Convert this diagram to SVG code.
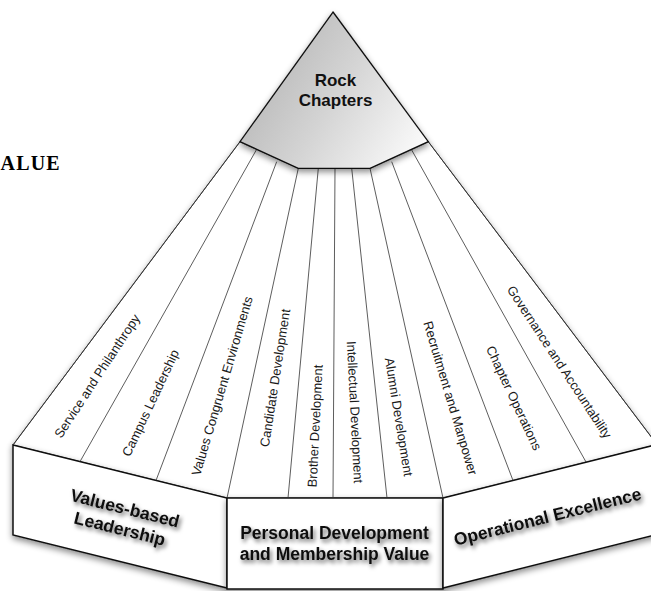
<svg xmlns="http://www.w3.org/2000/svg" width="651" height="591" viewBox="0 0 651 591">
<defs>
<linearGradient id="pg" x1="0" y1="0.3" x2="1" y2="0.8">
<stop offset="0" stop-color="#b2b2b2"/>
<stop offset="0.5" stop-color="#d4d4d4"/>
<stop offset="1" stop-color="#fafafa"/>
</linearGradient>
<filter id="sh" x="-10%" y="-10%" width="120%" height="130%">
<feDropShadow dx="0" dy="3" stdDeviation="3" flood-color="#000" flood-opacity="0.45"/>
</filter>
<filter id="tsh" x="-10%" y="-30%" width="130%" height="180%">
<feDropShadow dx="2" dy="3" stdDeviation="2" flood-color="#000" flood-opacity="0.6"/>
</filter>
</defs>
<style>
.fl{font-family:"Liberation Sans",Arial,sans-serif;font-size:13px;fill:#1a1a1a;text-anchor:middle}
.bl{font-family:"Liberation Sans",Arial,sans-serif;font-size:17.5px;font-weight:bold;fill:#111;text-anchor:middle}
.div{stroke:#333;stroke-width:0.8;fill:none}
.box{fill:#fff;stroke:#111;stroke-width:1.5;stroke-linejoin:miter}
</style>
<rect width="651" height="591" fill="#fff"/>
<text x="0.5" y="170" font-family="Liberation Serif,Times New Roman,serif" font-size="20" font-weight="bold" letter-spacing="1.2" fill="#000">ALUE</text>

<g id="fan">
<polygon points="240,141.7 298.3,168.3 370,168.3 428.3,141.7 657,444.5 443,498 227,498 13,445" fill="#fff" stroke="#222" stroke-width="0.9" filter="url(#sh)"/>
</g>

<g id="box-values" filter="url(#sh)">
<polygon class="box" points="13,445 227,498 227,588 13,535"/>
</g>
<g id="box-personal" filter="url(#sh)">
<polygon class="box" points="227,498 443,498 443,589 227,589"/>
</g>
<g id="box-operational" filter="url(#sh)">
<polygon class="box" points="443,498 657,444.5 657,534.5 443,588"/>
</g>

<g id="connectors">
<line class="div" x1="256.7" y1="149.3" x2="80" y2="461.6"/>
<line class="div" x1="276.7" y1="161.7" x2="156" y2="480.5"/>
<line class="div" x1="298.3" y1="168.3" x2="227" y2="498"/>
<line class="div" x1="318.3" y1="168.3" x2="288" y2="498"/>
<line class="div" x1="335" y1="168.3" x2="333" y2="498"/>
<line class="div" x1="351.7" y1="168.3" x2="387" y2="498"/>
<line class="div" x1="370" y1="168.3" x2="443" y2="498"/>
<line class="div" x1="391.7" y1="161.7" x2="513" y2="480.5"/>
<line class="div" x1="411.7" y1="150" x2="586" y2="462"/>
<line class="div" x1="240" y1="141.7" x2="13" y2="445"/>
<line class="div" x1="428.3" y1="141.7" x2="657" y2="444.5"/>
</g>

<g id="rock">
<polygon points="333,12 428.3,141.7 370,168.3 298.3,168.3 240,141.7" fill="url(#pg)" stroke="#111" stroke-width="1.3" stroke-linejoin="miter" filter="url(#sh)"/>
<text x="335.5" y="86" font-family="Liberation Sans,Arial,sans-serif" font-size="17" font-weight="bold" fill="#111" text-anchor="middle">Rock</text>
<text x="335.5" y="106" font-family="Liberation Sans,Arial,sans-serif" font-size="17" font-weight="bold" fill="#111" text-anchor="middle">Chapters</text>
</g>

<g id="s1"><text class="fl" dy="0.35em" transform="translate(97,376) rotate(-56.7)">Service and Philanthropy</text></g>
<g id="s2"><text class="fl" dy="0.35em" transform="translate(150.5,403) rotate(-64.8)">Campus Leadership</text></g>
<g id="s3"><text class="fl" dy="0.35em" transform="translate(222,386) rotate(-73.5)">Values Congruent Environments</text></g>
<g id="s4"><text class="fl" dy="0.35em" transform="translate(275,378) rotate(-81.2)">Candidate Development</text></g>
<g id="s5"><text class="fl" dy="0.35em" transform="translate(315,426) rotate(-87.2)">Brother Development</text></g>
<g id="s6"><text class="fl" dy="0.35em" transform="translate(355,412) rotate(87.1)">Intellectual Development</text></g>
<g id="s7"><text class="fl" dy="0.35em" transform="translate(399,417) rotate(80.7)">Alumni Development</text></g>
<g id="s8"><text class="fl" dy="0.35em" transform="translate(450.5,398) rotate(73.3)">Recruitment and Manpower</text></g>
<g id="s9"><text class="fl" dy="0.35em" transform="translate(514,398) rotate(64.9)">Chapter Operations</text></g>
<g id="s10"><text class="fl" dy="0.35em" transform="translate(559.5,362) rotate(56.75)">Governance and Accountability</text></g>

<g id="label-values" filter="url(#tsh)">
<g transform="translate(123,516) rotate(14)">
<text class="bl" x="0" y="-2">Values-based</text>
<text class="bl" x="0" y="19">Leadership</text>
</g>
</g>
<g id="label-personal" filter="url(#tsh)">
<text class="bl" x="334.5" y="539.3">Personal Development</text>
<text class="bl" x="334.5" y="560">and Membership Value</text>
</g>
<g id="label-operational" filter="url(#tsh)">
<text class="bl" transform="translate(549,522.5) rotate(-14)">Operational Excellence</text>
</g>
</svg>
